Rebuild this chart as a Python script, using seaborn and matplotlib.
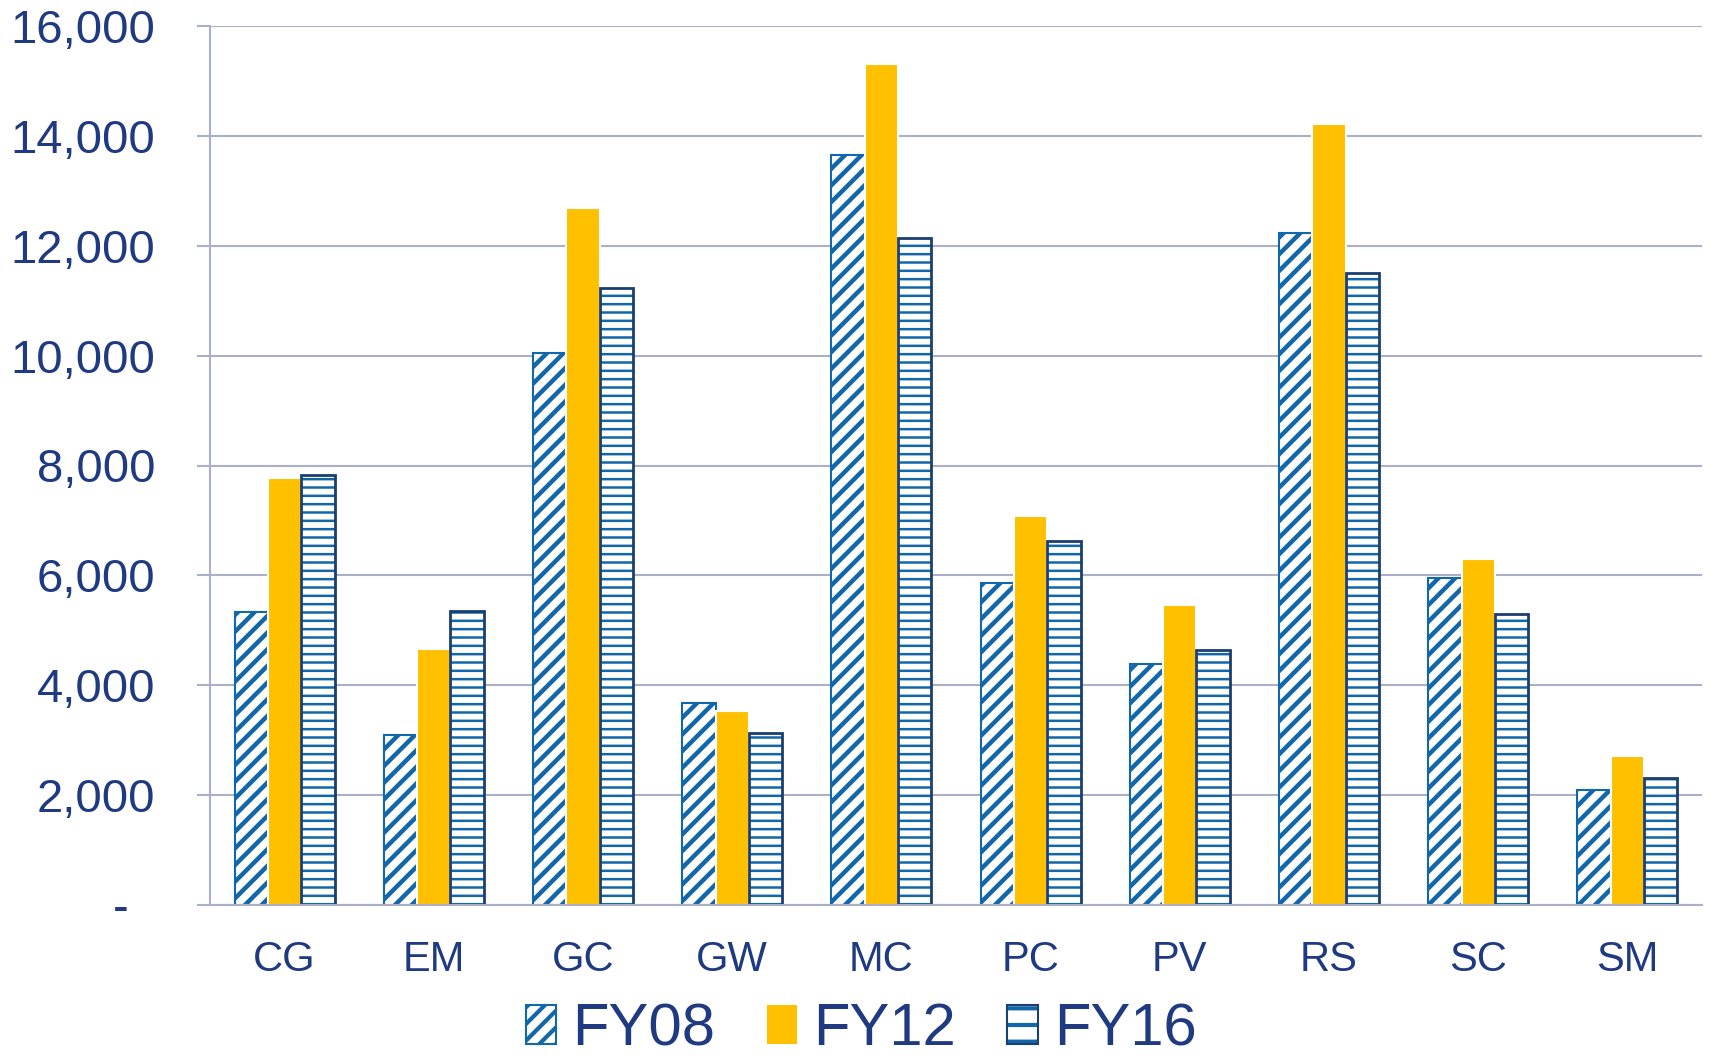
import numpy as np
import pandas as pd
import matplotlib
matplotlib.use("Agg")
import matplotlib.pyplot as plt
import seaborn as sns
from matplotlib.patches import Patch
from matplotlib.colors import to_rgba

categories = ["CG", "EM", "GC", "GW", "MC", "PC", "PV", "RS", "SC", "SM"]
series = ["FY08", "FY12", "FY16"]
fy08 = [5330, 3100, 10040, 3680, 13660, 5860, 4380, 12240, 5950, 2090]
fy12 = [7770, 4660, 12680, 3530, 15310, 7080, 5460, 14210, 6290, 2720]
fy16 = [7830, 5360, 11230, 3130, 12140, 6630, 4640, 11510, 5300, 2320]
yticks = [0, 2000, 4000, 6000, 8000, 10000, 12000, 14000, 16000]
ytick_labels = ["-  ", "2,000", "4,000", "6,000", "8,000", "10,000", "12,000", "14,000", "16,000"]

df = pd.DataFrame({
    "cat": categories * 3,
    "year": [s for s in series for _ in categories],
    "value": fy08 + fy12 + fy16,
})

sns.set_style("white")
plt.rcParams["font.family"] = ["Liberation Sans", "DejaVu Sans"]
plt.rcParams["hatch.linewidth"] = 3.0

TEXT = "#1F3A80"
GRID = "#ABAFC7"
BLUE = "#1266AA"
NAVY = "#1A3F70"
GOLD = "#FFC000"

fig = plt.figure(figsize=(17.12, 10.64), dpi=100)
ax = fig.add_axes([210 / 1712, 1 - 905 / 1064, (1702 - 210) / 1712, (905 - 26) / 1064])

sns.barplot(data=df, x="cat", y="value", hue="year", hue_order=series,
            palette=["white", GOLD, "white"], width=0.67, gap=0, ax=ax,
            legend=False, saturation=1, errorbar=None)

styles = [
    dict(fc="white", ec=BLUE, hatch="//", lw=1.5, hc=BLUE, hlw=3.2),
    dict(fc=GOLD, ec="white", hatch=None, lw=1.5, hc=None, hlw=None),
    dict(fc="white", ec=NAVY, hatch="--", lw=2.0, hc=BLUE, hlw=1.8),
]
for cont, st in zip(ax.containers, styles):
    for p in cont:
        p.set_facecolor(st["fc"])
        p.set_edgecolor(st["ec"])
        p.set_linewidth(st["lw"])
        if st["hatch"]:
            p.set_hatch(st["hatch"])
            p._hatch_color = to_rgba(st["hc"])
            if hasattr(p, "set_hatch_linewidth"):
                p.set_hatch_linewidth(st["hlw"])
        p.set_zorder(3)

ax.set_ylim(0, 16000)
ax.set_xlim(-0.5, len(categories) - 0.5)
ax.set_yticks(yticks)
ax.set_yticklabels(ytick_labels)
ax.set_xticks(np.arange(-0.5, len(categories)), labels=[""] * (len(categories) + 1))
ax.set_xticks(np.arange(len(categories)), labels=categories, minor=True)
ax.tick_params(axis="x", which="major", length=9.4, width=1.5, color=GRID, direction="out")
ax.tick_params(axis="x", which="minor", length=0, pad=25, labelsize=30, labelcolor=TEXT)
ax.tick_params(axis="y", length=9.4, width=1.5, color=GRID, direction="out", pad=30,
               labelsize=34, labelcolor=TEXT, left=True)
ax.set_xlabel("")
ax.set_ylabel("")
ax.yaxis.grid(True, color=GRID, linewidth=1.5)
ax.set_axisbelow(True)
for s in ["top", "right"]:
    ax.spines[s].set_visible(False)
for s in ["left", "bottom"]:
    ax.spines[s].set_color(GRID)
    ax.spines[s].set_linewidth(1.5)
ax.spines["bottom"].set_zorder(4)

h08 = Patch(facecolor="white", edgecolor=BLUE, hatch="//", linewidth=1.5)
h12 = Patch(facecolor=GOLD, edgecolor=GOLD, linewidth=0)
h16 = Patch(facecolor="white", edgecolor=NAVY, hatch="-", linewidth=1.5)
h16._hatch_color = to_rgba(BLUE)
for h, w in ((h08, 3.2), (h16, 2.2)):
    if hasattr(h, "set_hatch_linewidth"):
        h.set_hatch_linewidth(w)
leg = fig.legend([h08, h12, h16], series, loc="center", bbox_to_anchor=(0.503, 0.032),
                 ncol=3, frameon=False, fontsize=43, handlelength=0.51, handleheight=0.64,
                 handletextpad=0.27, columnspacing=0.86, borderpad=0, labelcolor=TEXT)

fig.savefig("out.png", dpi=100)
